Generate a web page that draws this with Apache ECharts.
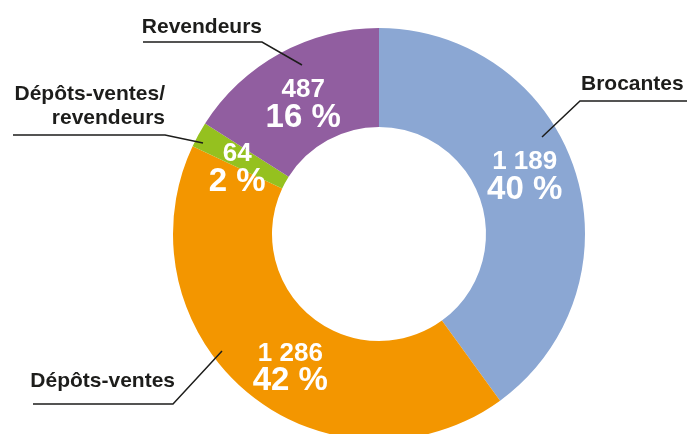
<!DOCTYPE html>
<html>
<head>
<meta charset="utf-8">
<script src="https://cdn.jsdelivr.net/npm/echarts@6/dist/echarts.min.js"></script>
<style>
html, body { margin: 0; padding: 0; background: #fff; }
#main { width: 687px; height: 434px; }
</style>
</head>
<body>
<div id="main"></div>
<script>
var categories = ['Brocantes', 'Dépôts-ventes', 'Dépôts-ventes/\nrevendeurs', 'Revendeurs'];
var counts = [1189, 1286, 64, 487];
var percents = [40, 42, 2, 16];
var colors = ['#8ba7d3', '#f39600', '#95c11f', '#915ea0'];

// étiquettes extérieures : trait (part -> coude -> fin du soulignement) et texte
var outerLabels = [
    { line: [[542, 137], [580, 101], [690, 101]], x: 581, y: 96, align: 'left' },
    { line: [[222, 351], [173, 404], [33, 404]], x: 175, y: 393, align: 'right' },
    { line: [[203, 143], [165, 135], [13, 135]], x: 165, y: 130, align: 'right' },
    { line: [[302, 65], [262, 42], [143, 42]], x: 262, y: 39, align: 'right' }
];
// petit décalage des chiffres dans les parts
var innerShift = [[-6, -8], [13, 11], [-2, 11], [1, 10]];

var font = "'Liberation Sans', Arial, sans-serif";

function fmt(n) {
    return String(n).replace(/\B(?=(\d{3})+(?!\d))/g, ' ');
}

var pieData = categories.map(function (c, i) {
    return { name: c, value: percents[i], itemStyle: { color: colors[i] } };
});

var myChart = echarts.init(document.getElementById('main'));
myChart.setOption({
    animation: false,
    series: [{
        type: 'pie',
        z: 2,
        center: [379, 234],
        radius: [107, 206],
        startAngle: 90,
        clockwise: true,
        silent: true,
        data: pieData,
        label: {
            show: true,
            position: 'inside',
            formatter: function (p) {
                return '{n|' + fmt(counts[p.dataIndex]) + '}\n{p|' + percents[p.dataIndex] + ' %}';
            },
            rich: {
                n: { fontFamily: font, fontWeight: 'bold', fontSize: 26, lineHeight: 27, color: '#fff' },
                p: { fontFamily: font, fontWeight: 'bold', fontSize: 33, lineHeight: 29, color: '#fff' }
            }
        },
        labelLayout: function (p) {
            return { dx: innerShift[p.dataIndex][0], dy: innerShift[p.dataIndex][1] };
        }
    }, {
        type: 'pie',
        z: 5,
        center: [379, 234],
        radius: [107, 206],
        startAngle: 90,
        clockwise: true,
        silent: true,
        data: pieData.map(function (d) {
            return { name: d.name, value: d.value, itemStyle: { color: 'rgba(0,0,0,0)' } };
        }),
        label: {
            show: true,
            position: 'outside',
            formatter: '{b}',
            overflow: 'none',
            fontFamily: font,
            fontWeight: 'bold',
            fontSize: 21,
            lineHeight: 24,
            color: '#1d1d1b'
        },
        labelLine: {
            show: true,
            lineStyle: { color: '#1d1d1b', width: 1.5 }
        },
        labelLayout: function (p) {
            var o = outerLabels[p.dataIndex];
            return {
                x: o.x,
                y: o.y,
                align: o.align,
                verticalAlign: 'bottom',
                labelLinePoints: o.line
            };
        }
    }]
});
</script>
</body>
</html>
